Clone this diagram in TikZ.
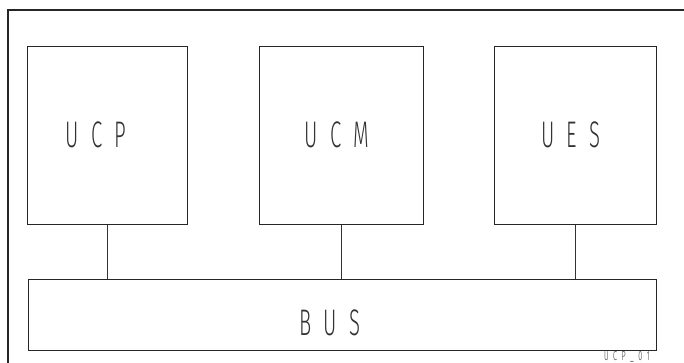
\documentclass[tikz,border=0pt]{standalone}
\usepackage{fontspec}
\newfontfamily\plotfont{Fira Sans Light}[FakeStretch=0.55]
\newcommand{\gapL}{\hspace{12pt}}
\newcommand{\gapS}{\hspace{4.5pt}}
\begin{document}
\begin{tikzpicture}[x=1pt,y=-1pt,
  unitbox/.style={draw=black!85, line width=0.7pt, inner sep=0pt},
  lbl/.style={font=\plotfont\fontsize{37}{37}\selectfont, text=black!80, inner sep=0pt},
  tag/.style={font=\plotfont\fontsize{13}{13}\selectfont, text=black!80, inner sep=0pt},
  link/.style={draw=black!80, line width=0.6pt}]
\useasboundingbox (0,0) rectangle (684,363);
\fill[white] (0,0) rectangle (684,363);
% outer frame (partially visible)
\draw[line width=1.1pt, black!85] (684,10) -- (8,10) -- (8,363);
% unit boxes
\node[unitbox, minimum width=160pt, minimum height=178pt] (ucp) at (107,135.5) {};
\node[unitbox, minimum width=164pt, minimum height=178pt] (ucm) at (341,135.5) {};
\node[unitbox, minimum width=162pt, minimum height=178pt] (ues) at (575,135.5) {};
\node[unitbox, minimum width=628pt, minimum height=70.5pt] (bus) at (342,314.75) {};
% labels
\node[lbl] (tucp) at (96,134.5) {U\gapL C\gapL P};
\node[lbl] (tucm) at (337,135) {U\gapL C\gapL M};
\node[lbl] (tues) at (571,134.5) {U\gapL E\gapL S};
\node[lbl] (tbus) at (330,322.5) {B\gapL U\gapL S};
\node[tag, anchor=base east] (ref) at (650,360) {U\gapS C\gapS P\gapS \_\gapS 0\gapS 1};
% connectors
\draw[link] (ucp.south) -- (ucp.south |- bus.north);
\draw[link] (ucm.south) -- (ucm.south |- bus.north);
\draw[link] (ues.south) -- (ues.south |- bus.north);
\end{tikzpicture}
\end{document}
